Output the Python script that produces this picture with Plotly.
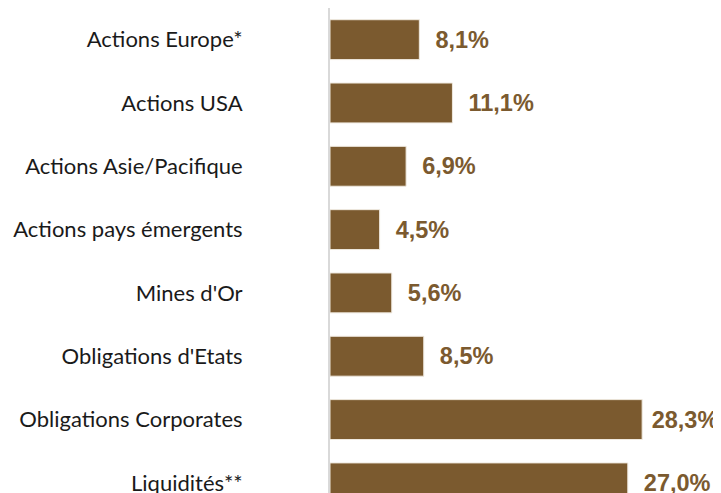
import plotly.graph_objects as go

categories = ["Actions Europe*", "Actions USA", "Actions Asie/Pacifique",
              "Actions pays émergents", "Mines d'Or", "Obligations d'Etats",
              "Obligations Corporates", "Liquidités**"]
values = [8.1, 11.1, 6.9, 4.5, 5.6, 8.5, 28.3, 27.0]
labels = ["8,1%", "11,1%", "6,9%", "4,5%", "5,6%", "8,5%", "28,3%", "27,0%"]

brown = "#7B5A2F"
x_max = 35.45

# labels near the right edge are pulled in a little (as the original does)
texts = [("\u00a0" if v > 28 else "\u00a0\u00a0") + l for v, l in zip(values, labels)]

fig = go.Figure(go.Bar(
    x=values, y=categories, orientation="h",
    marker=dict(color=brown, line=dict(color="#EFE9DF", width=1)),
    width=0.63,
    text=texts, textposition="outside",
    textfont=dict(family="Liberation Sans, Arial", size=23.5, color=brown),
    texttemplate="<b>%{text}</b>",
    cliponaxis=False,
))

fig.update_layout(
    width=713, height=485,
    margin=dict(l=322, r=0, t=0, b=0, autoexpand=False),
    plot_bgcolor="white", paper_bgcolor="white",
    showlegend=False,
    xaxis=dict(range=[0, x_max], visible=False, showgrid=False, zeroline=False,
               automargin=False),
    yaxis=dict(
        categoryorder="array", categoryarray=categories,
        range=[7.16, -0.5], showline=True, linecolor="#D9D9D9", linewidth=2,
        ticks="", showgrid=False, zeroline=False, automargin=False,
        tickfont=dict(family="Lato, Liberation Sans, Arial", size=22, color="#1a1a1a"),
        ticklabelstandoff=81,
    ),
)

fig.write_html("out.html")
